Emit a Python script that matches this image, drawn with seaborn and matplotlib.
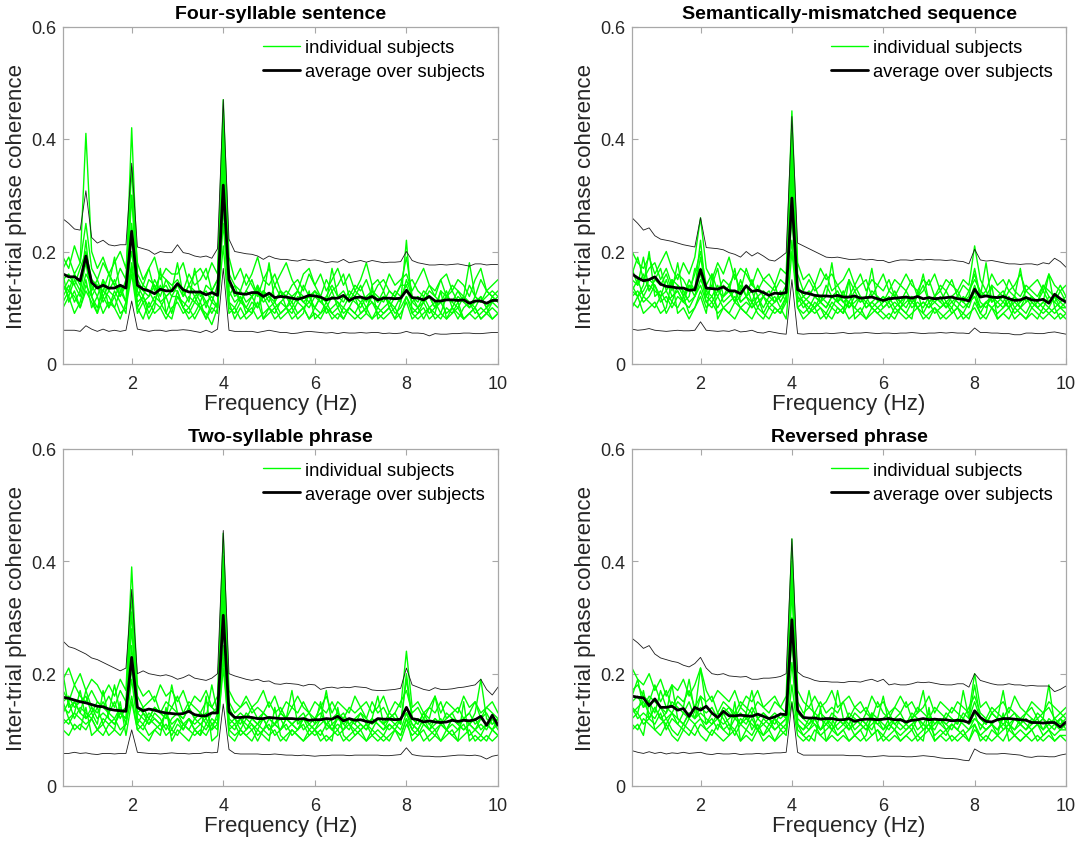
import numpy as np
import pandas as pd
import matplotlib
matplotlib.use("Agg")
import matplotlib.pyplot as plt
import seaborn as sns

# ---------------- data ----------------
freq = np.round(np.arange(0.5, 10.0001, 0.125), 3)  # 77 frequency bins (Hz)

titles = ["Four-syllable sentence", "Semantically-mismatched sequence",
          "Two-syllable phrase", "Reversed phrase"]

# --- Four-syllable sentence ---
avg_four = [0.160,0.155,0.155,0.148,0.192,0.145,0.135,0.140,
            0.135,0.135,0.140,0.135,0.236,0.140,0.133,0.130,
            0.125,0.133,0.130,0.130,0.143,0.132,0.128,0.128,
            0.128,0.123,0.127,0.122,0.318,0.150,0.127,0.125,
            0.124,0.127,0.127,0.120,0.126,0.118,0.120,0.119,
            0.117,0.115,0.118,0.122,0.121,0.119,0.114,0.117,
            0.117,0.122,0.113,0.118,0.119,0.116,0.120,0.114,
            0.117,0.117,0.116,0.117,0.131,0.118,0.117,0.114,
            0.120,0.112,0.112,0.114,0.114,0.113,0.114,0.108,
            0.112,0.112,0.108,0.113,0.113]
upper_four = [0.258,0.250,0.240,0.238,0.308,0.225,0.215,0.220,
              0.212,0.210,0.212,0.212,0.357,0.208,0.205,0.202,
              0.195,0.200,0.198,0.198,0.212,0.198,0.196,0.192,
              0.190,0.192,0.188,0.205,0.470,0.222,0.200,0.198,
              0.196,0.195,0.192,0.186,0.192,0.188,0.186,0.186,
              0.184,0.183,0.186,0.184,0.185,0.183,0.180,0.182,
              0.181,0.186,0.180,0.182,0.184,0.181,0.184,0.182,
              0.180,0.181,0.181,0.182,0.200,0.184,0.180,0.178,
              0.176,0.176,0.177,0.176,0.177,0.178,0.176,0.174,
              0.178,0.178,0.176,0.177,0.177]
lower_four = [0.060,0.060,0.060,0.058,0.068,0.062,0.058,0.062,
              0.058,0.060,0.058,0.060,0.112,0.062,0.060,0.058,
              0.060,0.060,0.058,0.060,0.060,0.061,0.060,0.058,
              0.056,0.060,0.056,0.062,0.170,0.060,0.058,0.058,
              0.058,0.058,0.056,0.058,0.060,0.058,0.056,0.056,
              0.054,0.055,0.057,0.058,0.057,0.056,0.055,0.056,
              0.054,0.056,0.055,0.055,0.056,0.055,0.056,0.056,
              0.054,0.055,0.054,0.055,0.058,0.055,0.055,0.054,
              0.050,0.054,0.053,0.053,0.054,0.054,0.055,0.055,
              0.054,0.054,0.055,0.056,0.056]
subj_four = [
    [0.19,0.17,0.21,0.18,0.41,0.20,0.17,0.19,0.16,0.18,0.20,0.17,0.30,0.18,0.15,0.17,
     0.19,0.15,0.17,0.16,0.16,0.18,0.14,0.16,0.17,0.15,0.18,0.16,0.47,0.19,0.15,0.17,
     0.14,0.16,0.19,0.15,0.17,0.14,0.16,0.18,0.15,0.13,0.16,0.17,0.14,0.16,0.13,0.15,
     0.17,0.14,0.16,0.13,0.15,0.18,0.14,0.15,0.13,0.16,0.14,0.15,0.16,0.13,0.15,0.17,
     0.14,0.12,0.15,0.16,0.13,0.15,0.14,0.12,0.15,0.17,0.13,0.14,0.15],
    [0.17,0.19,0.16,0.18,0.25,0.17,0.15,0.18,0.16,0.14,0.17,0.15,0.42,0.16,0.14,0.17,
     0.13,0.16,0.15,0.14,0.15,0.13,0.16,0.14,0.15,0.17,0.13,0.15,0.40,0.16,0.14,0.13,
     0.16,0.14,0.12,0.15,0.14,0.16,0.13,0.12,0.14,0.15,0.13,0.16,0.14,0.12,0.15,0.13,
     0.14,0.16,0.12,0.14,0.13,0.15,0.12,0.14,0.15,0.13,0.12,0.14,0.14,0.15,0.13,0.12,
     0.14,0.13,0.15,0.12,0.14,0.13,0.11,0.14,0.12,0.15,0.13,0.12,0.13],
    [0.15,0.16,0.14,0.17,0.20,0.15,0.14,0.13,0.16,0.14,0.12,0.15,0.25,0.14,0.12,0.15,
     0.14,0.12,0.15,0.13,0.14,0.12,0.14,0.13,0.11,0.14,0.13,0.15,0.35,0.14,0.13,0.11,
     0.13,0.15,0.12,0.13,0.11,0.14,0.12,0.13,0.12,0.11,0.14,0.12,0.13,0.11,0.12,0.14,
     0.12,0.13,0.11,0.12,0.14,0.11,0.13,0.12,0.11,0.13,0.12,0.14,0.19,0.12,0.11,0.13,
     0.12,0.10,0.13,0.12,0.11,0.13,0.12,0.10,0.12,0.11,0.13,0.12,0.11],
    [0.14,0.12,0.15,0.13,0.18,0.12,0.14,0.11,0.13,0.12,0.14,0.11,0.30,0.13,0.11,0.12,
     0.14,0.11,0.12,0.13,0.13,0.10,0.12,0.11,0.13,0.11,0.12,0.10,0.44,0.13,0.11,0.12,
     0.10,0.12,0.13,0.11,0.12,0.10,0.11,0.12,0.10,0.12,0.11,0.10,0.12,0.11,0.10,0.12,
     0.11,0.10,0.12,0.11,0.10,0.12,0.11,0.10,0.12,0.11,0.10,0.12,0.13,0.11,0.10,0.12,
     0.10,0.11,0.09,0.12,0.11,0.10,0.12,0.11,0.10,0.12,0.10,0.11,0.12],
    [0.13,0.15,0.14,0.12,0.16,0.14,0.12,0.15,0.13,0.15,0.12,0.14,0.20,0.12,0.14,0.13,
     0.11,0.14,0.12,0.13,0.18,0.12,0.14,0.12,0.13,0.10,0.13,0.12,0.30,0.12,0.14,0.11,
     0.13,0.12,0.10,0.13,0.12,0.11,0.13,0.10,0.12,0.13,0.11,0.12,0.10,0.12,0.11,0.13,
     0.10,0.12,0.11,0.13,0.12,0.10,0.12,0.11,0.13,0.10,0.12,0.11,0.15,0.12,0.10,0.11,
     0.12,0.10,0.11,0.13,0.10,0.12,0.11,0.10,0.11,0.12,0.10,0.12,0.11],
    [0.12,0.14,0.11,0.13,0.22,0.12,0.10,0.13,0.12,0.10,0.13,0.11,0.18,0.11,0.12,0.10,
     0.12,0.11,0.09,0.12,0.12,0.11,0.10,0.12,0.10,0.11,0.09,0.11,0.25,0.11,0.10,0.12,
     0.09,0.11,0.10,0.12,0.10,0.09,0.11,0.10,0.11,0.09,0.10,0.11,0.10,0.12,0.09,0.10,
     0.11,0.09,0.10,0.12,0.09,0.10,0.11,0.09,0.10,0.11,0.09,0.10,0.12,0.10,0.09,0.11,
     0.09,0.10,0.11,0.09,0.10,0.08,0.10,0.11,0.09,0.10,0.09,0.11,0.10],
    [0.11,0.13,0.12,0.10,0.14,0.12,0.09,0.12,0.10,0.13,0.11,0.09,0.23,0.10,0.12,0.09,
     0.11,0.10,0.12,0.09,0.13,0.10,0.09,0.11,0.10,0.08,0.11,0.10,0.28,0.10,0.09,0.11,
     0.10,0.09,0.11,0.08,0.10,0.11,0.09,0.10,0.09,0.11,0.10,0.08,0.10,0.09,0.11,0.09,
     0.10,0.08,0.10,0.09,0.11,0.09,0.08,0.10,0.09,0.10,0.08,0.11,0.22,0.09,0.10,0.08,
     0.10,0.09,0.08,0.10,0.09,0.11,0.08,0.09,0.10,0.08,0.09,0.10,0.09],
    [0.10,0.12,0.09,0.11,0.15,0.10,0.12,0.09,0.11,0.10,0.08,0.11,0.17,0.10,0.08,0.11,
     0.09,0.10,0.08,0.10,0.11,0.09,0.10,0.08,0.10,0.09,0.07,0.10,0.21,0.09,0.10,0.08,
     0.09,0.10,0.08,0.09,0.10,0.08,0.09,0.10,0.08,0.09,0.10,0.08,0.09,0.08,0.10,0.09,
     0.08,0.10,0.09,0.08,0.09,0.10,0.08,0.09,0.08,0.09,0.10,0.08,0.12,0.09,0.08,0.09,
     0.10,0.08,0.09,0.08,0.10,0.09,0.08,0.09,0.08,0.09,0.10,0.08,0.09],
    [0.16,0.11,0.13,0.10,0.13,0.11,0.09,0.15,0.10,0.12,0.09,0.10,0.16,0.09,0.11,0.08,
     0.10,0.17,0.09,0.08,0.12,0.10,0.08,0.09,0.11,0.08,0.10,0.09,0.33,0.11,0.08,0.10,
     0.08,0.09,0.14,0.08,0.09,0.10,0.08,0.09,0.10,0.08,0.09,0.13,0.08,0.09,0.10,0.08,
     0.09,0.08,0.10,0.09,0.08,0.09,0.14,0.08,0.09,0.10,0.08,0.09,0.11,0.08,0.09,0.10,
     0.08,0.09,0.13,0.08,0.09,0.10,0.08,0.09,0.10,0.08,0.09,0.08,0.09],
    [0.14,0.13,0.16,0.14,0.19,0.13,0.15,0.12,0.14,0.19,0.13,0.14,0.35,0.15,0.13,0.12,
     0.15,0.13,0.14,0.12,0.14,0.13,0.11,0.17,0.12,0.13,0.11,0.14,0.38,0.15,0.12,0.13,
     0.11,0.12,0.14,0.12,0.18,0.11,0.13,0.12,0.11,0.13,0.12,0.11,0.13,0.12,0.11,0.17,
     0.12,0.11,0.13,0.12,0.11,0.12,0.13,0.11,0.12,0.11,0.13,0.12,0.14,0.11,0.12,0.11,
     0.13,0.12,0.11,0.12,0.13,0.11,0.12,0.18,0.12,0.11,0.12,0.13,0.12],
]

# --- Semantically-mismatched sequence ---
avg_sem = [0.160,0.153,0.148,0.150,0.155,0.142,0.138,0.137,
           0.135,0.135,0.131,0.132,0.168,0.135,0.134,0.133,
           0.137,0.130,0.130,0.125,0.139,0.129,0.131,0.127,
           0.122,0.126,0.125,0.127,0.295,0.132,0.127,0.125,
           0.122,0.121,0.121,0.120,0.122,0.119,0.119,0.121,
           0.117,0.118,0.119,0.116,0.113,0.116,0.117,0.118,
           0.119,0.117,0.120,0.116,0.118,0.116,0.117,0.118,
           0.119,0.116,0.115,0.112,0.133,0.119,0.121,0.119,
           0.118,0.120,0.116,0.113,0.114,0.118,0.114,0.113,
           0.115,0.108,0.124,0.116,0.110]
upper_sem = [0.260,0.250,0.238,0.242,0.228,0.222,0.220,0.218,
             0.215,0.212,0.210,0.208,0.260,0.207,0.206,0.205,
             0.203,0.198,0.195,0.190,0.200,0.192,0.198,0.192,
             0.185,0.183,0.190,0.198,0.440,0.215,0.210,0.205,
             0.200,0.195,0.190,0.189,0.190,0.188,0.186,0.186,
             0.187,0.185,0.186,0.184,0.184,0.180,0.183,0.185,
             0.185,0.184,0.186,0.185,0.186,0.185,0.185,0.184,
             0.185,0.183,0.182,0.178,0.204,0.185,0.183,0.184,
             0.182,0.180,0.178,0.178,0.177,0.178,0.178,0.176,
             0.180,0.178,0.188,0.182,0.172]
lower_sem = [0.062,0.060,0.061,0.063,0.060,0.059,0.058,0.059,
             0.060,0.059,0.059,0.060,0.075,0.060,0.059,0.058,
             0.059,0.058,0.061,0.057,0.058,0.060,0.056,0.055,
             0.058,0.056,0.054,0.053,0.150,0.054,0.053,0.054,
             0.054,0.054,0.055,0.054,0.055,0.056,0.054,0.055,
             0.055,0.056,0.055,0.054,0.055,0.055,0.054,0.055,
             0.055,0.056,0.055,0.054,0.055,0.055,0.056,0.055,
             0.056,0.055,0.055,0.054,0.064,0.056,0.056,0.055,
             0.055,0.054,0.054,0.052,0.052,0.055,0.055,0.054,
             0.054,0.056,0.057,0.055,0.053]
subj_sem = [
    [0.20,0.18,0.17,0.19,0.16,0.18,0.20,0.17,0.15,0.18,0.16,0.19,0.26,0.17,0.15,0.18,
     0.16,0.19,0.15,0.17,0.16,0.14,0.17,0.15,0.16,0.14,0.17,0.16,0.45,0.18,0.15,0.16,
     0.14,0.17,0.15,0.16,0.14,0.15,0.17,0.14,0.16,0.13,0.15,0.14,0.16,0.13,0.15,0.14,
     0.16,0.14,0.13,0.15,0.14,0.16,0.13,0.15,0.14,0.13,0.15,0.14,0.21,0.15,0.13,0.16,
     0.14,0.15,0.13,0.14,0.16,0.13,0.14,0.15,0.13,0.16,0.14,0.13,0.14],
    [0.16,0.19,0.15,0.17,0.18,0.15,0.17,0.14,0.16,0.15,0.13,0.16,0.20,0.14,0.16,0.13,
     0.15,0.14,0.16,0.13,0.17,0.14,0.13,0.15,0.14,0.13,0.15,0.14,0.41,0.16,0.13,0.15,
     0.13,0.14,0.16,0.13,0.14,0.12,0.15,0.13,0.14,0.15,0.12,0.14,0.13,0.15,0.12,0.14,
     0.13,0.15,0.12,0.13,0.15,0.12,0.14,0.13,0.15,0.12,0.14,0.13,0.15,0.13,0.12,0.14,
     0.13,0.12,0.15,0.13,0.12,0.14,0.13,0.12,0.14,0.13,0.12,0.14,0.12],
    [0.15,0.14,0.16,0.13,0.15,0.17,0.13,0.15,0.14,0.12,0.15,0.13,0.19,0.13,0.14,0.12,
     0.14,0.13,0.11,0.14,0.12,0.15,0.12,0.13,0.12,0.14,0.11,0.13,0.35,0.14,0.12,0.13,
     0.12,0.11,0.14,0.12,0.13,0.11,0.12,0.14,0.12,0.11,0.13,0.12,0.11,0.13,0.12,0.11,
     0.13,0.11,0.12,0.14,0.11,0.12,0.13,0.11,0.12,0.13,0.11,0.12,0.17,0.12,0.13,0.11,
     0.12,0.13,0.11,0.12,0.11,0.13,0.12,0.11,0.13,0.11,0.12,0.11,0.12],
    [0.13,0.15,0.12,0.14,0.13,0.12,0.15,0.12,0.13,0.11,0.14,0.12,0.17,0.12,0.11,0.13,
     0.12,0.14,0.11,0.12,0.14,0.11,0.12,0.10,0.12,0.11,0.13,0.11,0.30,0.12,0.11,0.10,
     0.12,0.11,0.10,0.12,0.11,0.13,0.10,0.11,0.12,0.10,0.11,0.12,0.10,0.11,0.12,0.10,
     0.11,0.12,0.10,0.11,0.10,0.12,0.11,0.10,0.12,0.11,0.10,0.11,0.14,0.11,0.10,0.12,
     0.11,0.10,0.12,0.10,0.11,0.12,0.10,0.11,0.10,0.12,0.11,0.10,0.11],
    [0.14,0.12,0.13,0.15,0.14,0.12,0.13,0.11,0.14,0.13,0.11,0.12,0.15,0.13,0.12,0.14,
     0.11,0.12,0.13,0.11,0.12,0.13,0.10,0.12,0.11,0.12,0.10,0.12,0.26,0.11,0.12,0.11,
     0.10,0.12,0.11,0.10,0.12,0.11,0.10,0.12,0.11,0.12,0.10,0.11,0.12,0.10,0.11,0.10,
     0.12,0.10,0.11,0.10,0.12,0.11,0.10,0.11,0.10,0.12,0.11,0.10,0.13,0.10,0.11,0.12,
     0.10,0.11,0.10,0.12,0.10,0.11,0.12,0.10,0.11,0.10,0.12,0.10,0.10],
    [0.12,0.13,0.11,0.12,0.14,0.11,0.12,0.10,0.12,0.11,0.10,0.12,0.14,0.11,0.10,0.12,
     0.10,0.11,0.12,0.10,0.11,0.10,0.12,0.09,0.11,0.10,0.09,0.11,0.22,0.10,0.11,0.09,
     0.11,0.10,0.09,0.11,0.10,0.09,0.11,0.10,0.09,0.11,0.10,0.09,0.10,0.11,0.09,0.10,
     0.09,0.11,0.10,0.09,0.11,0.09,0.10,0.11,0.09,0.10,0.09,0.11,0.12,0.09,0.11,0.10,
     0.09,0.10,0.11,0.09,0.10,0.09,0.11,0.10,0.09,0.10,0.09,0.10,0.09],
    [0.11,0.10,0.12,0.11,0.10,0.12,0.09,0.11,0.10,0.12,0.09,0.10,0.13,0.10,0.11,0.09,
     0.10,0.09,0.11,0.10,0.09,0.11,0.09,0.08,0.10,0.09,0.10,0.08,0.20,0.10,0.09,0.10,
     0.09,0.10,0.08,0.10,0.09,0.10,0.08,0.09,0.10,0.08,0.09,0.10,0.09,0.08,0.10,0.09,
     0.08,0.09,0.10,0.08,0.09,0.10,0.08,0.09,0.10,0.08,0.09,0.08,0.11,0.09,0.08,0.10,
     0.08,0.09,0.10,0.08,0.09,0.08,0.10,0.09,0.08,0.09,0.10,0.08,0.09],
    [0.10,0.12,0.09,0.10,0.11,0.09,0.10,0.15,0.09,0.10,0.08,0.10,0.12,0.09,0.16,0.08,
     0.10,0.09,0.08,0.10,0.09,0.08,0.10,0.09,0.08,0.10,0.09,0.12,0.33,0.10,0.08,0.09,
     0.10,0.08,0.09,0.08,0.10,0.09,0.15,0.08,0.09,0.08,0.10,0.09,0.08,0.09,0.08,0.10,
     0.09,0.08,0.13,0.09,0.08,0.10,0.09,0.08,0.09,0.10,0.08,0.09,0.10,0.08,0.09,0.14,
     0.08,0.09,0.08,0.10,0.09,0.08,0.09,0.08,0.10,0.09,0.08,0.09,0.08],
    [0.17,0.14,0.19,0.13,0.15,0.14,0.16,0.13,0.18,0.12,0.14,0.13,0.22,0.12,0.14,0.17,
     0.12,0.13,0.11,0.15,0.12,0.11,0.14,0.12,0.13,0.11,0.12,0.14,0.38,0.13,0.11,0.12,
     0.14,0.11,0.12,0.18,0.11,0.12,0.11,0.13,0.11,0.12,0.17,0.11,0.12,0.11,0.13,0.11,
     0.12,0.11,0.12,0.16,0.11,0.12,0.11,0.13,0.11,0.12,0.11,0.13,0.16,0.12,0.18,0.11,
     0.12,0.11,0.13,0.12,0.17,0.11,0.12,0.11,0.14,0.12,0.11,0.13,0.11],
    [0.13,0.12,0.14,0.20,0.12,0.13,0.11,0.12,0.13,0.11,0.12,0.17,0.16,0.11,0.12,0.10,
     0.12,0.13,0.17,0.11,0.12,0.10,0.11,0.12,0.10,0.11,0.12,0.13,0.28,0.12,0.10,0.11,
     0.10,0.11,0.10,0.12,0.11,0.10,0.11,0.10,0.12,0.10,0.11,0.10,0.11,0.12,0.10,0.11,
     0.10,0.12,0.10,0.11,0.10,0.11,0.12,0.10,0.11,0.10,0.12,0.11,0.12,0.10,0.11,0.10,
     0.11,0.12,0.10,0.11,0.10,0.12,0.11,0.10,0.11,0.16,0.10,0.11,0.10],
]

# --- Two-syllable phrase ---
avg_two = [0.158,0.156,0.153,0.150,0.148,0.145,0.142,0.141,
           0.137,0.135,0.134,0.133,0.229,0.140,0.134,0.137,
           0.135,0.132,0.130,0.129,0.128,0.129,0.133,0.127,
           0.125,0.125,0.130,0.130,0.304,0.132,0.122,0.122,
           0.123,0.122,0.120,0.120,0.122,0.121,0.120,0.120,
           0.120,0.119,0.120,0.117,0.118,0.118,0.120,0.119,
           0.124,0.116,0.120,0.117,0.118,0.115,0.113,0.120,
           0.119,0.119,0.118,0.119,0.140,0.120,0.118,0.114,
           0.116,0.114,0.113,0.114,0.117,0.115,0.117,0.116,
           0.118,0.124,0.108,0.126,0.108]
upper_two = [0.258,0.248,0.245,0.240,0.235,0.228,0.225,0.220,
             0.215,0.210,0.205,0.210,0.350,0.200,0.205,0.200,
             0.198,0.196,0.198,0.195,0.190,0.193,0.198,0.192,
             0.190,0.188,0.192,0.200,0.455,0.200,0.196,0.193,
             0.190,0.188,0.190,0.186,0.187,0.182,0.181,0.183,
             0.182,0.181,0.178,0.181,0.180,0.172,0.175,0.176,
             0.174,0.176,0.175,0.177,0.176,0.175,0.171,0.170,
             0.170,0.171,0.172,0.174,0.210,0.180,0.176,0.172,
             0.170,0.175,0.172,0.172,0.173,0.175,0.176,0.178,
             0.180,0.190,0.172,0.162,0.176]
lower_two = [0.058,0.058,0.060,0.058,0.059,0.057,0.056,0.058,
             0.058,0.057,0.058,0.058,0.100,0.060,0.059,0.058,
             0.058,0.057,0.058,0.059,0.058,0.058,0.057,0.058,
             0.058,0.060,0.059,0.060,0.146,0.065,0.058,0.057,
             0.057,0.057,0.057,0.056,0.056,0.057,0.056,0.055,
             0.055,0.054,0.055,0.054,0.053,0.054,0.054,0.055,
             0.055,0.055,0.054,0.055,0.055,0.055,0.055,0.055,
             0.054,0.054,0.055,0.056,0.068,0.056,0.054,0.053,
             0.053,0.052,0.052,0.053,0.054,0.055,0.055,0.054,
             0.055,0.053,0.048,0.053,0.055]
subj_two = [
    [0.19,0.21,0.18,0.20,0.17,0.19,0.18,0.16,0.18,0.16,0.19,0.17,0.39,0.18,0.16,0.17,
     0.15,0.18,0.16,0.17,0.15,0.17,0.14,0.16,0.15,0.17,0.14,0.16,0.45,0.17,0.15,0.14,
     0.16,0.14,0.15,0.17,0.14,0.16,0.13,0.15,0.14,0.16,0.14,0.13,0.15,0.14,0.16,0.13,
     0.15,0.14,0.13,0.16,0.14,0.15,0.13,0.14,0.16,0.13,0.15,0.14,0.24,0.14,0.15,0.13,
     0.14,0.16,0.13,0.15,0.14,0.13,0.16,0.14,0.15,0.13,0.14,0.15,0.13],
    [0.17,0.15,0.18,0.16,0.15,0.17,0.15,0.14,0.16,0.14,0.17,0.15,0.34,0.16,0.14,0.15,
     0.16,0.13,0.15,0.14,0.16,0.13,0.15,0.14,0.13,0.15,0.14,0.13,0.41,0.15,0.13,0.14,
     0.15,0.13,0.14,0.13,0.15,0.13,0.14,0.12,0.14,0.13,0.15,0.13,0.12,0.14,0.13,0.15,
     0.13,0.12,0.14,0.13,0.14,0.12,0.15,0.13,0.14,0.12,0.13,0.15,0.17,0.13,0.14,0.12,
     0.14,0.13,0.15,0.12,0.13,0.14,0.12,0.13,0.15,0.12,0.14,0.13,0.12],
    [0.15,0.16,0.14,0.15,0.16,0.13,0.15,0.14,0.13,0.15,0.12,0.14,0.28,0.14,0.13,0.12,
     0.14,0.13,0.12,0.14,0.13,0.12,0.14,0.12,0.13,0.11,0.13,0.14,0.36,0.13,0.12,0.11,
     0.13,0.12,0.11,0.13,0.12,0.11,0.13,0.12,0.11,0.12,0.13,0.11,0.12,0.13,0.11,0.12,
     0.13,0.11,0.12,0.11,0.13,0.12,0.11,0.12,0.11,0.13,0.12,0.11,0.19,0.12,0.11,0.13,
     0.11,0.12,0.11,0.13,0.12,0.11,0.12,0.13,0.11,0.12,0.13,0.11,0.12],
    [0.14,0.13,0.15,0.13,0.12,0.14,0.12,0.13,0.12,0.11,0.13,0.12,0.25,0.12,0.11,0.13,
     0.12,0.11,0.13,0.11,0.12,0.10,0.12,0.11,0.12,0.13,0.11,0.12,0.33,0.12,0.11,0.12,
     0.10,0.12,0.11,0.10,0.12,0.11,0.10,0.12,0.11,0.10,0.12,0.11,0.10,0.11,0.12,0.10,
     0.11,0.10,0.12,0.11,0.10,0.11,0.10,0.12,0.11,0.10,0.11,0.12,0.14,0.11,0.10,0.12,
     0.10,0.11,0.12,0.10,0.11,0.10,0.12,0.11,0.10,0.11,0.10,0.12,0.10],
    [0.13,0.15,0.12,0.14,0.13,0.12,0.14,0.11,0.13,0.12,0.14,0.11,0.21,0.13,0.12,0.11,
     0.13,0.12,0.10,0.12,0.13,0.11,0.12,0.10,0.11,0.12,0.10,0.13,0.28,0.11,0.12,0.10,
     0.12,0.11,0.10,0.12,0.10,0.11,0.12,0.10,0.11,0.12,0.10,0.11,0.10,0.12,0.11,0.10,
     0.12,0.11,0.10,0.12,0.11,0.10,0.12,0.11,0.10,0.12,0.11,0.10,0.13,0.10,0.12,0.11,
     0.10,0.12,0.11,0.10,0.12,0.11,0.10,0.11,0.12,0.10,0.11,0.10,0.11],
    [0.12,0.11,0.13,0.12,0.11,0.12,0.10,0.12,0.11,0.12,0.10,0.11,0.19,0.11,0.10,0.12,
     0.11,0.10,0.11,0.09,0.11,0.10,0.12,0.10,0.09,0.11,0.10,0.11,0.25,0.10,0.11,0.09,
     0.10,0.11,0.09,0.10,0.11,0.09,0.10,0.11,0.09,0.10,0.11,0.09,0.10,0.09,0.11,0.10,
     0.09,0.10,0.11,0.09,0.10,0.11,0.09,0.10,0.09,0.11,0.10,0.09,0.12,0.10,0.09,0.11,
     0.10,0.09,0.11,0.10,0.09,0.10,0.11,0.09,0.10,0.09,0.11,0.10,0.09],
    [0.11,0.12,0.10,0.11,0.10,0.12,0.10,0.09,0.11,0.10,0.09,0.11,0.16,0.10,0.11,0.09,
     0.10,0.11,0.09,0.10,0.09,0.11,0.10,0.09,0.10,0.09,0.11,0.10,0.21,0.10,0.09,0.10,
     0.09,0.10,0.08,0.10,0.09,0.10,0.08,0.09,0.10,0.09,0.08,0.10,0.09,0.10,0.08,0.09,
     0.10,0.08,0.09,0.10,0.09,0.08,0.10,0.09,0.08,0.09,0.10,0.08,0.11,0.09,0.10,0.08,
     0.09,0.10,0.08,0.09,0.10,0.08,0.09,0.10,0.08,0.09,0.08,0.10,0.09],
    [0.10,0.09,0.11,0.10,0.14,0.09,0.10,0.11,0.09,0.10,0.15,0.09,0.15,0.10,0.09,0.08,
     0.10,0.09,0.14,0.08,0.10,0.09,0.08,0.10,0.09,0.16,0.08,0.09,0.23,0.09,0.08,0.10,
     0.09,0.08,0.10,0.09,0.08,0.14,0.09,0.08,0.10,0.09,0.08,0.09,0.10,0.08,0.09,0.08,
     0.14,0.09,0.08,0.09,0.10,0.08,0.09,0.08,0.09,0.08,0.10,0.09,0.12,0.08,0.09,0.10,
     0.08,0.09,0.08,0.10,0.09,0.08,0.15,0.08,0.09,0.08,0.09,0.08,0.09],
    [0.20,0.14,0.15,0.13,0.17,0.14,0.13,0.15,0.13,0.18,0.13,0.14,0.31,0.13,0.14,0.12,
     0.14,0.13,0.12,0.18,0.13,0.12,0.14,0.12,0.13,0.12,0.18,0.13,0.39,0.14,0.12,0.13,
     0.12,0.14,0.12,0.13,0.12,0.11,0.13,0.12,0.17,0.11,0.12,0.13,0.11,0.12,0.17,0.11,
     0.12,0.13,0.11,0.12,0.13,0.11,0.12,0.16,0.11,0.12,0.13,0.11,0.20,0.12,0.11,0.13,
     0.12,0.16,0.11,0.12,0.13,0.11,0.12,0.11,0.13,0.19,0.12,0.11,0.12],
    [0.15,0.12,0.13,0.17,0.12,0.13,0.11,0.17,0.12,0.11,0.13,0.12,0.22,0.11,0.13,0.11,
     0.12,0.11,0.13,0.10,0.12,0.11,0.10,0.12,0.11,0.10,0.12,0.11,0.30,0.11,0.10,0.12,
     0.11,0.10,0.11,0.12,0.10,0.11,0.10,0.12,0.11,0.10,0.12,0.10,0.11,0.15,0.10,0.11,
     0.10,0.12,0.11,0.10,0.11,0.10,0.12,0.11,0.10,0.11,0.10,0.12,0.13,0.11,0.10,0.12,
     0.11,0.10,0.11,0.10,0.12,0.11,0.10,0.11,0.10,0.12,0.11,0.10,0.12],
]

# --- Reversed phrase ---
avg_rev = [0.160,0.158,0.157,0.143,0.155,0.140,0.140,0.142,
           0.135,0.138,0.124,0.140,0.135,0.142,0.130,0.122,
           0.133,0.125,0.125,0.126,0.125,0.124,0.128,0.124,
           0.120,0.123,0.128,0.127,0.296,0.135,0.122,0.121,
           0.121,0.119,0.120,0.120,0.118,0.118,0.120,0.115,
           0.118,0.119,0.119,0.118,0.119,0.120,0.118,0.118,
           0.114,0.117,0.118,0.120,0.118,0.119,0.118,0.118,
           0.116,0.117,0.116,0.113,0.134,0.122,0.115,0.114,
           0.118,0.120,0.120,0.119,0.118,0.117,0.113,0.113,
           0.112,0.113,0.113,0.105,0.114]
upper_rev = [0.263,0.255,0.245,0.250,0.235,0.228,0.225,0.222,
             0.220,0.215,0.212,0.218,0.229,0.210,0.200,0.198,
             0.200,0.196,0.195,0.194,0.195,0.190,0.190,0.192,
             0.192,0.193,0.195,0.200,0.440,0.203,0.195,0.192,
             0.188,0.186,0.186,0.185,0.185,0.184,0.186,0.186,
             0.185,0.188,0.190,0.186,0.190,0.180,0.182,0.180,
             0.180,0.182,0.185,0.184,0.185,0.183,0.181,0.180,
             0.180,0.182,0.182,0.176,0.200,0.188,0.185,0.182,
             0.180,0.180,0.182,0.180,0.180,0.178,0.179,0.178,
             0.178,0.178,0.168,0.172,0.178]
lower_rev = [0.063,0.060,0.058,0.061,0.058,0.060,0.057,0.059,
             0.058,0.060,0.058,0.059,0.060,0.057,0.056,0.058,
             0.057,0.057,0.058,0.056,0.057,0.057,0.058,0.057,
             0.058,0.059,0.059,0.060,0.148,0.060,0.055,0.055,
             0.055,0.055,0.055,0.055,0.055,0.055,0.054,0.054,
             0.054,0.052,0.052,0.053,0.054,0.053,0.053,0.053,
             0.052,0.052,0.053,0.054,0.053,0.052,0.050,0.049,
             0.049,0.048,0.046,0.045,0.066,0.060,0.057,0.057,
             0.057,0.058,0.057,0.056,0.055,0.052,0.051,0.053,
             0.053,0.052,0.052,0.055,0.057]
subj_rev = [
    [0.21,0.19,0.18,0.20,0.17,0.19,0.16,0.18,0.17,0.19,0.16,0.18,0.21,0.17,0.15,0.17,
     0.16,0.15,0.17,0.14,0.16,0.15,0.17,0.14,0.15,0.16,0.14,0.16,0.44,0.17,0.15,0.14,
     0.16,0.14,0.15,0.17,0.14,0.15,0.16,0.14,0.15,0.13,0.16,0.14,0.15,0.13,0.14,0.16,
     0.14,0.15,0.13,0.14,0.16,0.13,0.15,0.14,0.13,0.15,0.14,0.13,0.20,0.14,0.15,0.13,
     0.14,0.15,0.13,0.16,0.14,0.13,0.15,0.14,0.13,0.15,0.14,0.13,0.14],
    [0.17,0.18,0.16,0.15,0.18,0.15,0.17,0.14,0.16,0.15,0.17,0.14,0.16,0.15,0.16,0.13,
     0.15,0.14,0.13,0.15,0.14,0.13,0.15,0.14,0.13,0.15,0.14,0.13,0.40,0.15,0.13,0.14,
     0.13,0.15,0.13,0.14,0.13,0.15,0.12,0.14,0.13,0.14,0.12,0.15,0.13,0.12,0.14,0.13,
     0.15,0.12,0.14,0.13,0.12,0.14,0.13,0.12,0.14,0.13,0.12,0.14,0.16,0.13,0.12,0.14,
     0.13,0.12,0.14,0.13,0.12,0.13,0.14,0.12,0.13,0.14,0.12,0.13,0.12],
    [0.15,0.16,0.14,0.16,0.15,0.14,0.13,0.15,0.14,0.13,0.15,0.12,0.14,0.13,0.14,0.12,
     0.13,0.14,0.12,0.13,0.12,0.14,0.12,0.13,0.12,0.11,0.13,0.12,0.35,0.13,0.12,0.11,
     0.13,0.12,0.11,0.13,0.12,0.11,0.13,0.12,0.11,0.13,0.12,0.11,0.12,0.13,0.11,0.12,
     0.11,0.13,0.12,0.11,0.13,0.11,0.12,0.11,0.12,0.11,0.13,0.12,0.15,0.12,0.11,0.13,
     0.12,0.11,0.12,0.13,0.11,0.12,0.11,0.13,0.12,0.11,0.12,0.11,0.12],
    [0.13,0.14,0.15,0.13,0.12,0.14,0.12,0.13,0.11,0.13,0.12,0.14,0.12,0.11,0.13,0.12,
     0.11,0.12,0.13,0.11,0.12,0.11,0.10,0.12,0.11,0.12,0.10,0.11,0.30,0.12,0.11,0.10,
     0.12,0.10,0.11,0.12,0.10,0.11,0.12,0.10,0.11,0.10,0.12,0.11,0.10,0.12,0.11,0.10,
     0.11,0.12,0.10,0.11,0.10,0.12,0.11,0.10,0.11,0.10,0.12,0.11,0.13,0.10,0.12,0.11,
     0.10,0.11,0.10,0.12,0.11,0.10,0.11,0.12,0.10,0.11,0.10,0.12,0.11],
    [0.14,0.12,0.13,0.12,0.14,0.12,0.11,0.13,0.12,0.11,0.13,0.12,0.13,0.12,0.11,0.13,
     0.12,0.10,0.12,0.11,0.13,0.10,0.12,0.11,0.10,0.12,0.11,0.12,0.26,0.11,0.10,0.12,
     0.11,0.10,0.12,0.10,0.11,0.12,0.10,0.11,0.12,0.11,0.10,0.12,0.11,0.10,0.12,0.11,
     0.10,0.11,0.12,0.10,0.11,0.10,0.12,0.11,0.10,0.12,0.11,0.10,0.12,0.11,0.10,0.11,
     0.12,0.10,0.11,0.10,0.12,0.11,0.10,0.11,0.12,0.10,0.11,0.12,0.10],
    [0.12,0.13,0.11,0.12,0.11,0.13,0.10,0.12,0.11,0.10,0.12,0.11,0.12,0.10,0.11,0.12,
     0.10,0.11,0.09,0.11,0.10,0.12,0.10,0.09,0.11,0.10,0.11,0.10,0.22,0.11,0.09,0.10,
     0.11,0.09,0.10,0.11,0.09,0.10,0.11,0.09,0.10,0.11,0.09,0.10,0.09,0.11,0.10,0.09,
     0.10,0.11,0.09,0.10,0.11,0.09,0.10,0.09,0.11,0.10,0.09,0.10,0.11,0.09,0.10,0.11,
     0.09,0.10,0.11,0.09,0.10,0.09,0.10,0.11,0.09,0.10,0.09,0.10,0.10],
    [0.11,0.10,0.12,0.11,0.10,0.11,0.12,0.10,0.09,0.11,0.10,0.09,0.11,0.10,0.09,0.11,
     0.10,0.09,0.10,0.08,0.10,0.09,0.11,0.09,0.10,0.08,0.10,0.09,0.18,0.10,0.09,0.08,
     0.10,0.09,0.08,0.10,0.09,0.10,0.08,0.09,0.10,0.08,0.09,0.10,0.08,0.09,0.10,0.08,
     0.09,0.10,0.08,0.09,0.10,0.08,0.09,0.10,0.08,0.09,0.10,0.08,0.10,0.09,0.08,0.10,
     0.09,0.08,0.10,0.09,0.08,0.09,0.10,0.08,0.09,0.10,0.08,0.09,0.09],
    [0.10,0.11,0.09,0.15,0.10,0.09,0.11,0.09,0.08,0.10,0.09,0.11,0.09,0.08,0.10,0.09,
     0.08,0.09,0.15,0.08,0.09,0.08,0.10,0.08,0.09,0.08,0.09,0.10,0.15,0.09,0.08,0.09,
     0.08,0.14,0.08,0.09,0.08,0.09,0.08,0.09,0.08,0.09,0.13,0.08,0.09,0.08,0.09,0.08,
     0.09,0.08,0.09,0.08,0.14,0.08,0.09,0.08,0.09,0.08,0.09,0.08,0.11,0.08,0.09,0.08,
     0.09,0.13,0.08,0.09,0.08,0.09,0.08,0.09,0.08,0.09,0.08,0.09,0.08],
    [0.16,0.19,0.14,0.15,0.13,0.17,0.14,0.13,0.15,0.14,0.19,0.13,0.21,0.14,0.13,0.12,
     0.14,0.13,0.12,0.14,0.13,0.17,0.12,0.13,0.12,0.13,0.12,0.13,0.38,0.13,0.12,0.17,
     0.12,0.13,0.12,0.11,0.17,0.12,0.11,0.13,0.12,0.11,0.13,0.12,0.16,0.11,0.12,0.13,
     0.11,0.12,0.13,0.17,0.11,0.12,0.11,0.13,0.12,0.11,0.17,0.12,0.18,0.12,0.11,0.13,
     0.12,0.17,0.11,0.12,0.11,0.13,0.12,0.11,0.12,0.18,0.11,0.12,0.13],
    [0.14,0.13,0.17,0.12,0.14,0.12,0.13,0.18,0.12,0.11,0.13,0.12,0.16,0.11,0.12,0.10,
     0.13,0.11,0.10,0.12,0.11,0.13,0.10,0.11,0.12,0.10,0.11,0.12,0.28,0.11,0.10,0.11,
     0.12,0.10,0.11,0.10,0.12,0.11,0.10,0.12,0.11,0.10,0.11,0.12,0.10,0.11,0.10,0.12,
     0.11,0.10,0.12,0.11,0.10,0.11,0.12,0.10,0.11,0.10,0.12,0.11,0.12,0.11,0.10,0.11,
     0.10,0.12,0.11,0.10,0.11,0.10,0.12,0.11,0.10,0.12,0.11,0.10,0.11],
]

panels = [
    (titles[0], subj_four, avg_four, upper_four, lower_four),
    (titles[1], subj_sem, avg_sem, upper_sem, lower_sem),
    (titles[2], subj_two, avg_two, upper_two, lower_two),
    (titles[3], subj_rev, avg_rev, upper_rev, lower_rev),
]

x_ticks = [2, 4, 6, 8, 10]
y_ticks = [0, 0.2, 0.4, 0.6]
y_tick_labels = ["0", "0.2", "0.4", "0.6"]

# ---------------- style ----------------
sns.set_theme(style="white")
plt.rcParams["font.family"] = ["Liberation Sans", "DejaVu Sans"]
TEXT = "#262626"
SPINE = "#a8a8a8"
GREEN = "#00ff00"

W, H = 1085, 845
fig = plt.figure(figsize=(W / 100, H / 100), dpi=100)

# axes boxes in pixels: (left, top, right, bottom)
boxes = [(63, 27.5, 498, 365), (632, 27.5, 1066, 365),
         (63, 450, 498, 787), (632, 450, 1066, 787)]

for (title, subj, avg, up, lo), (l, t, r, b) in zip(panels, boxes):
    ax = fig.add_axes([l / W, 1 - b / H, (r - l) / W, (b - t) / H])
    long = pd.DataFrame({
        "freq": np.tile(freq, len(subj)),
        "itpc": np.concatenate([np.asarray(s) for s in subj]),
        "subject": np.repeat(np.arange(len(subj)), len(freq)),
    })
    sns.lineplot(data=long, x="freq", y="itpc", units="subject", estimator=None,
                 color=GREEN, lw=1.0, ax=ax, legend=False)
    sns.lineplot(x=freq, y=up, color="#1a1a1a", lw=0.6, ax=ax, legend=False)
    sns.lineplot(x=freq, y=lo, color="#1a1a1a", lw=0.6, ax=ax, legend=False)
    sns.lineplot(x=freq, y=avg, color="black", lw=2.0, ax=ax, legend=False)
    green_handle = ax.lines[0]
    avg_handle = ax.lines[-1]

    ax.set_xlim(0.5, 10)
    ax.set_ylim(0, 0.6)
    ax.set_xticks(x_ticks)
    ax.set_yticks(y_ticks)
    ax.set_yticklabels(y_tick_labels)
    ax.tick_params(direction="in", length=4, width=0.8, color=SPINE,
                   labelsize=13, labelcolor=TEXT, top=True, right=True,
                   bottom=True, left=True)
    ax.tick_params(axis="x", pad=8)
    ax.tick_params(axis="y", pad=5)
    for sp in ax.spines.values():
        sp.set_color(SPINE)
        sp.set_linewidth(0.9)
    ax.set_xlabel("Frequency (Hz)", fontsize=16, color=TEXT, labelpad=1)
    ax.set_ylabel("Inter-trial phase coherence", fontsize=16, color=TEXT, labelpad=3)
    ax.set_title(title, fontsize=14, fontweight="bold", color="black", pad=6)

    ax.legend([green_handle, avg_handle],
              ["individual subjects", "average over subjects"],
              loc="upper right", frameon=False, fontsize=13.2,
              handlelength=2.0, handletextpad=0.3, labelspacing=0.38,
              borderaxespad=0.3, labelcolor="black")

fig.savefig("out.png", dpi=100)
